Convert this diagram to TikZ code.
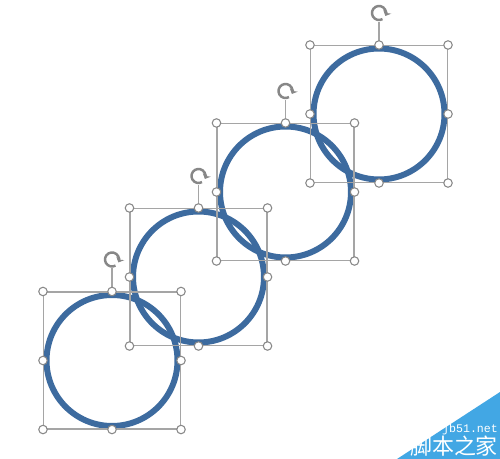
\documentclass[tikz,border=0pt]{standalone}
\usepackage{fontspec}
\newfontfamily\cjkfont{Noto Sans CJK SC}
\newfontfamily\wmmono{Liberation Mono}
\usetikzlibrary{arrows.meta}
\definecolor{ringblue}{RGB}{61,107,159}
\definecolor{framegray}{RGB}{165,165,165}
\definecolor{handlegray}{RGB}{135,135,135}
\definecolor{wmblue}{RGB}{66,167,228}

\begin{document}
\begin{tikzpicture}[
        x=0.02cm, y=-0.02cm,
        ring/.style={draw=ringblue, line width=3.4pt},
        selbox/.style={
            rectangle,
            draw=framegray,
            line width=0.6pt,
            minimum size=2.74cm,
            inner sep=0pt
        },
        handle/.style={
            circle,
            draw=handlegray,
            fill=white,
            line width=0.6pt,
            minimum size=0.17cm,
            inner sep=0pt
        },
        rotmark/.style={draw=handlegray, line width=1.4pt, -{Stealth[length=2.6pt,width=5pt]}},
        wmtext/.style={text=white, inner sep=0pt}
    ]

    % (0,0) at left top corner, one unit = one pixel
    \useasboundingbox[fill=white] (0,0) rectangle (500,459);

    % (x, y, number) centre of each circle
    \def\ringdata{112/360.5/1, 198.5/277/2, 285.5/192/3, 379/114/4}

    % blue circles
    \foreach \x/\y/\n in \ringdata {
        \coordinate (c\n) at (\x,\y);
        \draw[ring] (c\n) circle (1.31cm);
    }

    % selection frames, handles and rotation marks on top
    \foreach \x/\y/\n in \ringdata {
        \node[selbox] (box\n) at (c\n) {};
        \coordinate (stem\n) at ([yshift=0.46cm]box\n.north);
        \coordinate (rot\n) at ([yshift=0.64cm]box\n.north);
        \draw[framegray, line width=0.6pt] (box\n.north) -- (stem\n);
        \draw[rotmark] ([shift={(-60:0.14cm)}]rot\n) arc[start angle=-60, end angle=-385, radius=0.14cm];
        \foreach \a/\k in {north west/nw, north/n, north east/ne, east/e,
                south east/se, south/s, south west/sw, west/w} {
            \node[handle] (h\n\k) at (box\n.\a) {};
        }
    }

    % --- watermark ---
    \fill[wmblue] (500,392) -- (500,459) -- (397,459) -- cycle;
    \node[wmtext, font=\wmmono\fontsize{6.6}{7}\selectfont] (wmsite) at (470,429) {jb51.net};
    \node[wmtext, font=\cjkfont\fontsize{12.5}{13}\selectfont] (wmname) at (454,446) {脚本之家};

\end{tikzpicture}
\end{document}
